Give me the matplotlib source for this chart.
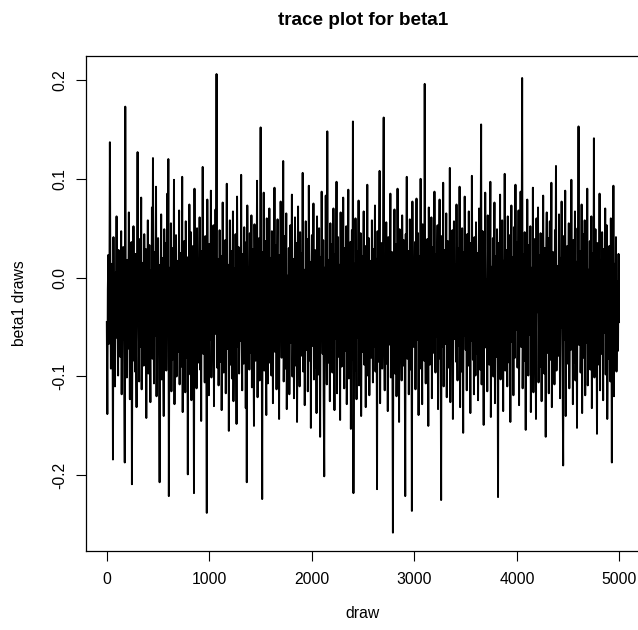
import numpy as np
import matplotlib
matplotlib.use('Agg')
import matplotlib.pyplot as plt

# beta1 draws, thinned: one value every 5 draws (draw = 1, 6, 11, ...), in units of 0.001
beta1_milli = [
    -45, -138, -12, 23, -67, -30, 137, -8, -92, 14, -55, -21, -184, 41, -73, -3, -110, 5, -38, 62,
    -61, -17, -99, 28, -44, 9, -80, -26, 47, -118, -5, -63, 31, -34, -87, -187, 173, -50, -14, -101,
    18, -72, -29, 66, -41, -123, 3, -58, 36, -209, -19, -84, 52, -36, -1, -95, 24, -66, -131, 11,
    127, -48, -7, -105, 39, -70, -24, 81, -113, -33, 15, -57, -89, 44, -11, -76, 29, -142, -2, -52,
    58, -97, -20, 33, -64, -126, 7, -43, 71, -82, 121, -15, -107, 26, -59, -37, 92, -120, -10, -68,
    40, -27, -88, -207, 13, -49, 64, -103, -31, 20, -78, -140, 49, -6, -62, 35, -94, -23, 85, -54,
    120, -221, -40, 10, -71, 55, -115, -18, -83, 30, -46, 99, -128, -9, -60, 43, -100, -28, 17, -75,
    -35, 68, -108, -13, 25, -90, -53, 102, -136, -4, -69, 37, -22, -116, 57, -42, -81, 8, -199, 21,
    -56, 74, -16, -98, 46, -124, -1, -65, 32, -39, -218, 90, -74, -25, 16, -112, 50, -47, -86, 4,
    -30, 61, -93, -11, -145, 27, -58, 112, -77, -34, 6, -106, 42, -20, -68, -238, 79, -52, -8, -119,
    34, -63, -15, 88, -101, -43, 12, -79, 53, -130, -2, -57, 69, -36, 206, -91, -24, 19, -109, -45,
    48, -14, -85, 22, -134, -50, 76, -28, -96, 3, -62, 38, -117, -7, 95, -72, -41, 13, -155, -19,
    58, -88, -33, 27, -102, -4, 67, -125, -55, 9, -80, 44, -29, -148, 82, -12, -70, 31, -97, -38,
    15, -64, 104, -43, -114, 24, -17, -87, 51, -60, -1, -132, 36, -207, 73, -26, -49, 10, -93, 45,
    -21, -76, 63, -111, -9, 29, -67, -150, 54, -32, -84, 17, -45, 98, -121, -3, -59, 40, -104, -16,
    152, -82, -27, -224, 26, -52, 86, -94, -13, 37, -71, -139, 60, -23, -107, 14, -48, 70, -86, -31,
    20, -99, 47, -18, -127, 5, -63, 91, -75, -40, 33, -113, -6, 59, -90, -36, -143, 23, -56, 77,
    -24, -81, 11, -61, 118, -105, -35, 42, -92, -14, 65, -133, -47, 2, -74, 30, -118, -29, 53, -66,
    -8, 84, -100, -42, 19, -122, -54, 61, -16, -89, 35, -146, -31, 72, -68, -3, -110, 46, -37, -79,
    25, -58, 106, -95, -21, 8, -129, -46, 57, -73, -10, 39, -115, -60, 93, -26, -84, 16, -152, -5,
    43, -69, -34, 75, -103, -17, 28, -91, 4, -137, 62, -50, -22, -98, 50, -39, -161, 21, -64, 87,
    -12, -77, 38, -120, -201, 10, -53, 83, -30, -108, 148, -44, -86, 18, -2, -125, 55, -71, -19, 34,
    -96, -41, 70, -11, -134, 24, -62, -28, 97, -117, -7, 41, -80, -49, 13, -144, 66, -33, -90, 1,
    -57, 81, -25, -112, 30, -74, -15, 52, -128, -43, 6, 89, -102, -20, -66, 36, -153, -9, 48, -83,
    158, -218, -35, 14, -94, 60, -18, -123, 27, -61, -38, 78, -109, 3, -51, 45, -140, -27, 22, -75,
    -4, 67, -88, -46, 32, -131, 11, -64, 94, -99, -23, 40, -119, -56, 17, -13, -81, 58, -37, -106,
    29, -70, -1, 73, -95, -31, 19, -214, 47, -48, -85, 8, 108, -127, -16, -60, 35, -92, -42, 64,
    162, -53, -114, 21, -29, 56, -87, -6, -135, 41, -68, 12, -24, 85, -101, -45, 26, -78, -258, 7,
    -32, 69, -97, -11, 34, -120, -58, 90, -39, -7, -146, 49, -74, 15, -52, -104, 63, -20, -89, 38,
    -14, -66, -221, 44, -36, 102, -82, -21, 27, -118, -48, 59, -5, -93, 18, -236, 77, -41, -70, 10,
    -55, 36, -113, -26, 80, -63, -9, 45, -139, -30, 22, -92, 100, -49, -15, -128, 54, -72, -2, -84,
    196, -44, -107, 16, -65, 39, -23, -150, 71, -33, -88, 9, -56, 61, -122, -10, 31, -76, -41, 87,
    -19, -96, 24, -60, -3, 53, -133, -37, 12, 79, -82, -45, -225, 42, -27, -70, 96, -110, -8, 28,
    -67, -34, 65, -121, -16, 37, -91, 2, -54, 111, -126, -29, 20, -78, 48, -143, -12, 57, -62, -38,
    13, -85, 74, -47, -104, 30, -17, -69, 92, -131, -24, 6, -95, 50, -40, -157, 26, -59, 82, -11,
    -73, 18, -114, 44, -28, -89, 67, -50, -6, -137, 35, -64, 103, -21, -83, 9, -118, 41, -35, -99,
    56, -13, -77, 25, -124, -42, 70, -7, -93, 14, 155, -108, -31, 47, -58, -149, 19, -71, 86, -25,
    -46, -2, -115, 63, -36, 31, -88, -19, 97, -141, -52, 11, -67, 40, -100, -14, 76, -127, -33, 22,
    -80, 49, -11, -222, 35, -57, -26, 84, -103, 4, -72, 58, -39, -135, 17, -61, 105, -94, -20, 28,
    -48, -110, 62, -30, 7, -86, 43, -146, -9, 73, -65, -37, 21, -119, 51, -16, -81, 94, -53, -4,
    36, -91, -27, 68, -129, 1, -44, 87, -70, -18, 202, -112, -50, 24, -84, 46, -33, -154, 15, -62,
    79, -22, -99, 33, -58, -13, 52, -136, -40, 10, -75, 91, -116, -28, 39, -68, -1, -143, 60, -35,
    -8, 71, -106, -47, 23, -90, 45, -19, -125, 5, -60, 83, -34, -97, 30, -52, -161, 18, 66, -76,
    -26, 40, -117, -4, 57, -83, -38, 96, -131, -15, 26, -70, 9, -108, 48, -43, 113, -94, -21, -57,
    12, -79, 64, -35, -122, 20, -51, 77, -9, -101, -190, 42, -63, -24, 88, -140, 6, -46, 32, -87,
    -17, 55, -112, -31, 13, -73, 99, -54, -5, -128, 38, -86, -23, 67, -104, -41, 16, -152, 50, -12,
    153, -68, -29, 27, -96, -53, 74, -137, -2, 44, -81, -36, 58, -119, -14, 21, -66, 90, -109, -45,
    8, -58, 37, -93, -19, 62, -132, -40, 25, -75, 141, -101, -10, 49, -64, -27, -158, 35, -88, 3,
    -48, 85, -114, -22, 18, -77, 46, -6, -124, 29, -56, -34, 70, -98, -15, 53, -143, -60, 11, -82,
    32, -39, -105, 60, -11, -187, 23, -71, 93, -120, -30, 14, -62, 41, -95, -28, -4, -74, 24, -45,
]
draw_step = 5

x_ticks = [0, 1000, 2000, 3000, 4000, 5000]
y_ticks = [-0.2, -0.1, 0.0, 0.1, 0.2]

beta1 = np.array(beta1_milli) / 1000.0
draw = 1 + draw_step * np.arange(len(beta1))

plt.rcParams['font.family'] = ['Liberation Sans', 'DejaVu Sans']
plt.rcParams['axes.unicode_minus'] = False

fig = plt.figure(figsize=(6.38, 6.30), dpi=100)
# R-style plot region, right edge runs just past the figure
ax = fig.add_axes([0.1353, 0.1254, 0.8671, 0.7862])

ax.plot(draw, beta1, color='black', linewidth=1.4)

# R default: 4% padding of the data range
lo, hi = beta1.min(), beta1.max()
pad_y = 0.04 * (hi - lo)
ax.set_ylim(lo - pad_y, hi + pad_y)
pad_x = 0.04 * (draw.max() - draw.min())
ax.set_xlim(draw.min() - pad_x, draw.max() + pad_x)

ax.set_xticks(x_ticks)
ax.set_xticklabels([str(t) for t in x_ticks])
ax.set_yticks(y_ticks)
ax.set_yticklabels([f'{t:.1f}' for t in y_ticks], rotation=90, va='center')

ax.tick_params(axis='both', direction='out', length=7.2, width=0.8, labelsize=11.3, color='black')
ax.tick_params(axis='x', pad=8)
ax.tick_params(axis='y', pad=6.5)
for s in ax.spines.values():
    s.set_linewidth(0.9)
    s.set_color('black')

ax.set_xlabel('draw', fontsize=11.3, va='center')
ax.xaxis.set_label_coords(0.5, -0.127)
ax.set_ylabel('beta1 draws', fontsize=11.3, va='center')
ax.yaxis.set_label_coords(-0.12, 0.5)

fig.text(0.5688, 1 - 25 / 630, 'trace plot for beta1', ha='center', va='baseline',
         fontsize=13.6, fontweight='bold')

fig.savefig('out.png', dpi=100)
